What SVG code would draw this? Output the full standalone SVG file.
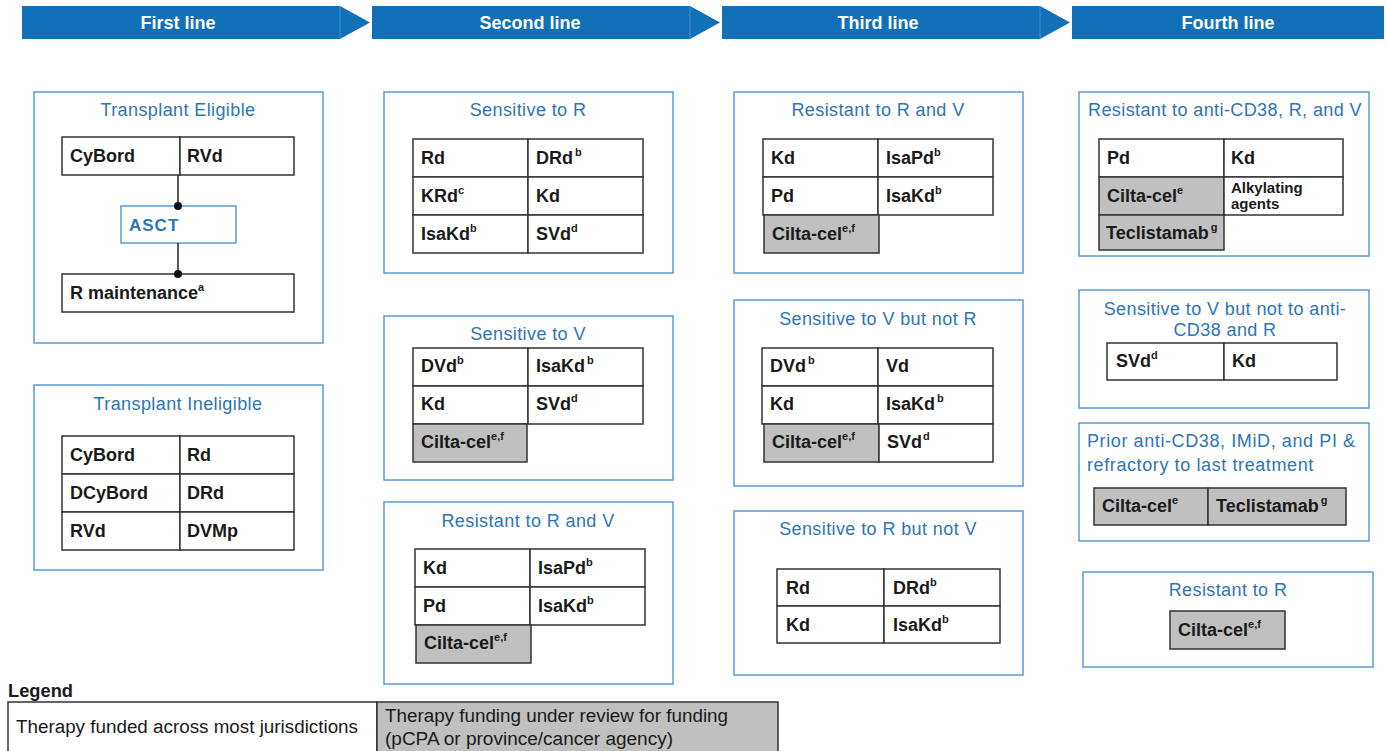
<svg xmlns="http://www.w3.org/2000/svg" width="1386" height="751" viewBox="0 0 1386 751">
<style>
.hdr{fill:#1170b8}
.hdrline{stroke:#4a90cc;stroke-width:1}
.htxt{font-family:"Liberation Sans",Arial,sans-serif;font-size:18px;font-weight:bold;fill:#ffffff;text-anchor:middle}
.panel{fill:#ffffff;stroke:#5b9bd5;stroke-width:1.5}
.title{font-family:"Liberation Sans",Arial,sans-serif;font-size:18px;letter-spacing:0.4px;fill:#2e75b6;text-anchor:middle}
.titleL{font-family:"Liberation Sans",Arial,sans-serif;font-size:18px;letter-spacing:0.6px;fill:#2e75b6}
.cell{fill:#ffffff;stroke:#333333;stroke-width:1.5}
.gcell{fill:#c0c0c0;stroke:#333333;stroke-width:1.5}
.ct{font-family:"Liberation Sans",Arial,sans-serif;font-size:18px;font-weight:bold;fill:#1a1a1a}
.cts{font-family:"Liberation Sans",Arial,sans-serif;font-size:15px;font-weight:bold;fill:#1a1a1a}
.sup{font-size:11px}
.asct{fill:#ffffff;stroke:#5b9bd5;stroke-width:1.5}
.asctt{font-family:"Liberation Sans",Arial,sans-serif;font-size:17px;font-weight:bold;fill:#2e75b6}
.conn{stroke:#222222;stroke-width:1.5;fill:none}
.lg{font-family:"Liberation Sans",Arial,sans-serif;font-size:18px;fill:#1a1a1a}
.lgh{font-family:"Liberation Sans",Arial,sans-serif;font-size:18px;font-weight:bold;fill:#1a1a1a}
</style>

<g id="header">
  <polygon class="hdr" points="22,6 340,6 370,22.5 340,39 22,39"/>
  <line class="hdrline" x1="340" y1="6" x2="340" y2="39"/>
  <text class="htxt" x="178" y="29">First line</text>
  <polygon class="hdr" points="372,6 690,6 720,22.5 690,39 372,39"/>
  <line class="hdrline" x1="690" y1="6" x2="690" y2="39"/>
  <text class="htxt" x="530" y="29">Second line</text>
  <polygon class="hdr" points="722,6 1040,6 1070,22.5 1040,39 722,39"/>
  <line class="hdrline" x1="1040" y1="6" x2="1040" y2="39"/>
  <text class="htxt" x="878" y="29">Third line</text>
  <rect class="hdr" x="1072" y="6" width="312" height="33"/>
  <text class="htxt" x="1228" y="29">Fourth line</text>
</g>

<!-- Column 1 -->
<g id="transplant-eligible">
  <rect class="panel" x="34" y="92" width="289" height="251"/>
  <text class="title" x="178" y="116">Transplant Eligible</text>
  <rect class="cell" x="62" y="137" width="118" height="38"/>
  <rect class="cell" x="180" y="137" width="114" height="38"/>
  <text class="ct" x="70" y="162">CyBord</text>
  <text class="ct" x="187" y="162">RVd</text>
</g>
<g id="asct">
  <rect class="asct" x="121" y="206" width="115" height="37"/>
  <text class="asctt" x="129" y="231" letter-spacing="1">ASCT</text>
</g>
<g id="r-maintenance">
  <rect class="cell" x="62" y="274" width="232" height="38"/>
  <text class="ct" x="70" y="299">R maintenance<tspan class="sup" dy="-8">a</tspan></text>
</g>
<g id="connectors">
  <line class="conn" x1="178" y1="175" x2="178" y2="206"/>
  <circle cx="178" cy="206" r="4" fill="#111"/>
  <line class="conn" x1="178" y1="243" x2="178" y2="274"/>
  <circle cx="178" cy="274" r="4" fill="#111"/>
</g>

<g id="transplant-ineligible">
  <rect class="panel" x="34" y="385" width="289" height="185"/>
  <text class="title" x="178" y="410">Transplant Ineligible</text>
  <rect class="cell" x="62" y="436" width="118" height="38"/>
  <rect class="cell" x="180" y="436" width="114" height="38"/>
  <rect class="cell" x="62" y="474" width="118" height="38"/>
  <rect class="cell" x="180" y="474" width="114" height="38"/>
  <rect class="cell" x="62" y="512" width="118" height="38"/>
  <rect class="cell" x="180" y="512" width="114" height="38"/>
  <text class="ct" x="70" y="461">CyBord</text>
  <text class="ct" x="187" y="461">Rd</text>
  <text class="ct" x="70" y="499">DCyBord</text>
  <text class="ct" x="187" y="499">DRd</text>
  <text class="ct" x="70" y="537">RVd</text>
  <text class="ct" x="187" y="537">DVMp</text>
</g>

<!-- Column 2 -->
<g id="c2-sensitive-r">
  <rect class="panel" x="384" y="92" width="289" height="181"/>
  <text class="title" x="528" y="116">Sensitive to R</text>
  <rect class="cell" x="413" y="139" width="115" height="38"/>
  <rect class="cell" x="528" y="139" width="115" height="38"/>
  <rect class="cell" x="413" y="177" width="115" height="38"/>
  <rect class="cell" x="528" y="177" width="115" height="38"/>
  <rect class="cell" x="413" y="215" width="115" height="38"/>
  <rect class="cell" x="528" y="215" width="115" height="38"/>
  <text class="ct" x="421" y="164">Rd</text>
  <text class="ct" x="536" y="164">DRd<tspan class="sup" dx="2" dy="-8">b</tspan></text>
  <text class="ct" x="421" y="202">KRd<tspan class="sup" dy="-8">c</tspan></text>
  <text class="ct" x="536" y="202">Kd</text>
  <text class="ct" x="421" y="240">IsaKd<tspan class="sup" dy="-8">b</tspan></text>
  <text class="ct" x="536" y="240">SVd<tspan class="sup" dy="-8">d</tspan></text>
</g>

<g id="c2-sensitive-v">
  <rect class="panel" x="384" y="316" width="289" height="164"/>
  <text class="title" x="528" y="340">Sensitive to V</text>
  <rect class="cell" x="413" y="348" width="115" height="38"/>
  <rect class="cell" x="528" y="348" width="115" height="38"/>
  <rect class="cell" x="413" y="386" width="115" height="38"/>
  <rect class="cell" x="528" y="386" width="115" height="38"/>
  <rect class="gcell" x="413" y="424" width="114" height="38"/>
  <text class="ct" x="421" y="372">DVd<tspan class="sup" dy="-8">b</tspan></text>
  <text class="ct" x="536" y="372">IsaKd<tspan class="sup" dx="2" dy="-8">b</tspan></text>
  <text class="ct" x="421" y="410">Kd</text>
  <text class="ct" x="536" y="410">SVd<tspan class="sup" dy="-8">d</tspan></text>
  <text class="ct" x="421" y="448">Cilta-cel<tspan class="sup" dy="-8">e,f</tspan></text>
</g>

<g id="c2-resistant-rv">
  <rect class="panel" x="384" y="502" width="289" height="182"/>
  <text class="title" x="528" y="527">Resistant to R and V</text>
  <rect class="cell" x="415" y="549" width="115" height="38"/>
  <rect class="cell" x="530" y="549" width="115" height="38"/>
  <rect class="cell" x="415" y="587" width="115" height="38"/>
  <rect class="cell" x="530" y="587" width="115" height="38"/>
  <rect class="gcell" x="416" y="625" width="115" height="38"/>
  <text class="ct" x="423" y="574">Kd</text>
  <text class="ct" x="538" y="574">IsaPd<tspan class="sup" dy="-8">b</tspan></text>
  <text class="ct" x="423" y="612">Pd</text>
  <text class="ct" x="538" y="612">IsaKd<tspan class="sup" dy="-8">b</tspan></text>
  <text class="ct" x="424" y="649">Cilta-cel<tspan class="sup" dy="-8">e,f</tspan></text>
</g>

<!-- Column 3 -->
<g id="c3-resistant-rv">
  <rect class="panel" x="734" y="92" width="289" height="181"/>
  <text class="title" x="878" y="116">Resistant to R and V</text>
  <rect class="cell" x="763" y="139" width="115" height="38"/>
  <rect class="cell" x="878" y="139" width="115" height="38"/>
  <rect class="cell" x="763" y="177" width="115" height="38"/>
  <rect class="cell" x="878" y="177" width="115" height="38"/>
  <rect class="gcell" x="764" y="215" width="115" height="38"/>
  <text class="ct" x="771" y="164">Kd</text>
  <text class="ct" x="886" y="164">IsaPd<tspan class="sup" dy="-8">b</tspan></text>
  <text class="ct" x="771" y="202">Pd</text>
  <text class="ct" x="886" y="202">IsaKd<tspan class="sup" dy="-8">b</tspan></text>
  <text class="ct" x="772" y="240">Cilta-cel<tspan class="sup" dy="-8">e,f</tspan></text>
</g>

<g id="c3-sensitive-v-not-r">
  <rect class="panel" x="734" y="300" width="289" height="186"/>
  <text class="title" x="878" y="325">Sensitive to V but not R</text>
  <rect class="cell" x="762" y="348" width="116" height="38"/>
  <rect class="cell" x="878" y="348" width="115" height="38"/>
  <rect class="cell" x="762" y="386" width="116" height="38"/>
  <rect class="cell" x="878" y="386" width="115" height="38"/>
  <rect class="gcell" x="764" y="424" width="115" height="38"/>
  <rect class="cell" x="879" y="424" width="114" height="38"/>
  <text class="ct" x="770" y="372">DVd<tspan class="sup" dx="2" dy="-8">b</tspan></text>
  <text class="ct" x="886" y="372">Vd</text>
  <text class="ct" x="770" y="410">Kd</text>
  <text class="ct" x="886" y="410">IsaKd<tspan class="sup" dx="2" dy="-8">b</tspan></text>
  <text class="ct" x="772" y="448">Cilta-cel<tspan class="sup" dy="-8">e,f</tspan></text>
  <text class="ct" x="887" y="448">SVd<tspan class="sup" dx="1" dy="-8">d</tspan></text>
</g>

<g id="c3-sensitive-r-not-v">
  <rect class="panel" x="734" y="511" width="289" height="164"/>
  <text class="title" x="878" y="535">Sensitive to R but not V</text>
  <rect class="cell" x="777" y="569" width="107" height="37"/>
  <rect class="cell" x="884" y="569" width="116" height="37"/>
  <rect class="cell" x="777" y="606" width="107" height="37"/>
  <rect class="cell" x="884" y="606" width="116" height="37"/>
  <text class="ct" x="786" y="594">Rd</text>
  <text class="ct" x="893" y="594">DRd<tspan class="sup" dy="-8">b</tspan></text>
  <text class="ct" x="786" y="631">Kd</text>
  <text class="ct" x="893" y="631">IsaKd<tspan class="sup" dy="-8">b</tspan></text>
</g>

<!-- Column 4 -->
<g id="c4-resistant-cd38-rv">
  <rect class="panel" x="1079" y="92" width="290" height="164"/>
  <text class="title" x="1225" y="116">Resistant to anti-CD38, R, and V</text>
  <rect class="cell" x="1099" y="139" width="125" height="38"/>
  <rect class="cell" x="1224" y="139" width="119" height="38"/>
  <rect class="gcell" x="1099" y="177" width="125" height="38"/>
  <rect class="cell" x="1224" y="177" width="119" height="38"/>
  <rect class="gcell" x="1099" y="215" width="125" height="35"/>
  <text class="ct" x="1107" y="164">Pd</text>
  <text class="ct" x="1231" y="164">Kd</text>
  <text class="ct" x="1107" y="202">Cilta-cel<tspan class="sup" dy="-8">e</tspan></text>
  <text class="cts" x="1231" y="193">Alkylating</text>
  <text class="cts" x="1231" y="209">agents</text>
  <text class="ct" x="1106" y="239">Teclistamab<tspan class="sup" dx="2" dy="-8">g</tspan></text>
</g>

<g id="c4-sensitive-v">
  <rect class="panel" x="1079" y="290" width="290" height="118"/>
  <text class="title" x="1225" y="315">Sensitive to V but not to anti-</text>
  <text class="title" x="1225" y="336">CD38 and R</text>
  <rect class="cell" x="1107" y="343" width="117" height="37"/>
  <rect class="cell" x="1224" y="343" width="113" height="37"/>
  <text class="ct" x="1116" y="367">SVd<tspan class="sup" dy="-8">d</tspan></text>
  <text class="ct" x="1232" y="367">Kd</text>
</g>

<g id="c4-prior">
  <rect class="panel" x="1079" y="423" width="290" height="118"/>
  <text class="titleL" x="1087" y="447">Prior anti-CD38, IMiD, and PI &amp;</text>
  <text class="titleL" x="1087" y="471">refractory to last treatment</text>
  <rect class="gcell" x="1094" y="488" width="114" height="37"/>
  <rect class="gcell" x="1208" y="488" width="138" height="37"/>
  <text class="ct" x="1102" y="512">Cilta-cel<tspan class="sup" dy="-8">e</tspan></text>
  <text class="ct" x="1216" y="512">Teclistamab<tspan class="sup" dx="2" dy="-8">g</tspan></text>
</g>

<g id="c4-resistant-r">
  <rect class="panel" x="1083" y="572" width="290" height="95"/>
  <text class="title" x="1228" y="596">Resistant to R</text>
  <rect class="gcell" x="1170" y="611" width="115" height="38"/>
  <text class="ct" x="1178" y="636">Cilta-cel<tspan class="sup" dy="-8">e,f</tspan></text>
</g>

<!-- Legend -->
<g id="legend">
  <text class="lgh" x="8" y="697" textLength="65" lengthAdjust="spacingAndGlyphs">Legend</text>
  <rect class="cell" x="8" y="702" width="369" height="52"/>
  <rect class="gcell" x="377" y="702" width="401" height="52"/>
  <text class="lg" x="16" y="733" textLength="342" lengthAdjust="spacingAndGlyphs">Therapy funded across most jurisdictions</text>
  <text class="lg" x="385" y="722" textLength="343" lengthAdjust="spacingAndGlyphs">Therapy funding under review for funding</text>
  <text class="lg" x="385" y="745" textLength="288" lengthAdjust="spacingAndGlyphs">(pCPA or province/cancer agency)</text>
</g>
</svg>
